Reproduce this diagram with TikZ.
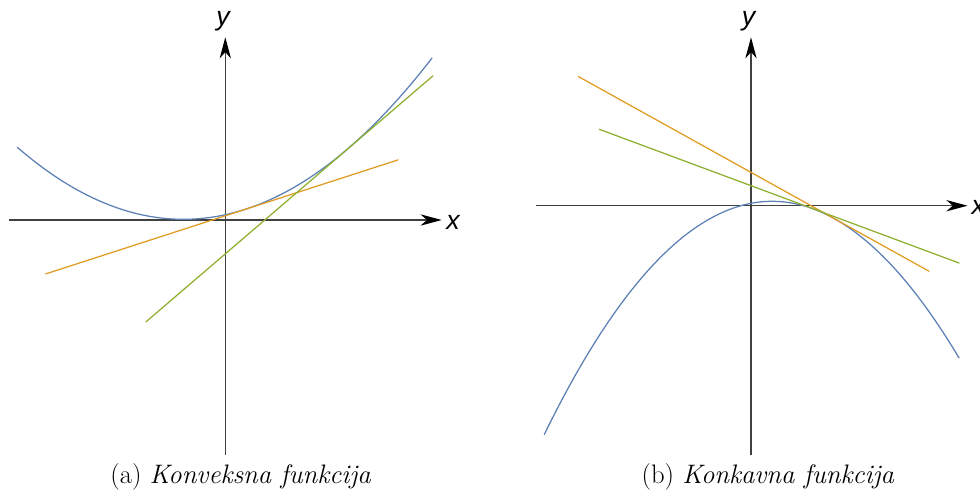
\documentclass[tikz,border=0pt]{standalone}
\usepackage{fontspec}
\newfontfamily\lblfont{Liberation Sans}
\usetikzlibrary{arrows.meta}
\definecolor{mblue}{RGB}{94,129,181}
\definecolor{morange}{RGB}{225,156,36}
\definecolor{mgreen}{RGB}{143,176,50}
\begin{document}
\begin{tikzpicture}[x=0.025cm,y=-0.025cm,
  axis/.style={draw=black!75,line width=0.8pt,-{Stealth[length=15pt,width=8pt,inset=4.5pt,color=black]}},
  curve/.style={line width=0.9pt,line cap=round},
  axlabel/.style={font=\lblfont\itshape\fontsize{19}{22}\selectfont,inner sep=0pt},
  caption/.style={font=\fontsize{19}{23}\selectfont,anchor=base,inner sep=0pt}]
\useasboundingbox (0,0) rectangle (980,495);
% ---- left panel
\coordinate (axL1) at (9,220);
\coordinate (axL2) at (441.7,220);
\coordinate (ayL1) at (225.3,455);
\coordinate (ayL2) at (225.3,37.3);
\draw[axis] (axL1) -- (axL2);
\draw[axis] (ayL1) -- (ayL2);
\node[axlabel] (xL) at (453,222) {x};
\node[axlabel] (yL) at (223,21) {y};
\draw[curve,mblue] plot[domain=17.3:432,samples=120] (\x,{219.3-(0.05108*(\x-183.4))^2});
\coordinate (oL1) at (45.7,273.9);
\coordinate (oL2) at (398,159.9);
\draw[curve,morange] (oL1) -- (oL2);
\coordinate (gL1) at (146,321.8);
\coordinate (gL2) at (433,75.8);
\draw[curve,mgreen] (gL1) -- (gL2);
\node[caption] (capA) at (240.8,483) {(a) \textit{Konveksna funkcija}};
% ---- right panel
\coordinate (axR1) at (536,205.7);
\coordinate (axR2) at (967.5,205.7);
\coordinate (ayR1) at (751,455);
\coordinate (ayR2) at (751,37.3);
\draw[axis] (axR1) -- (axR2);
\draw[axis] (ayR1) -- (ayR2);
\node[axlabel] (xR) at (978.3,207.5) {x};
\node[axlabel] (yR) at (748.5,21) {y};
\draw[curve,mblue] plot[domain=544.3:959,samples=120] (\x,{201.3+(0.06699*(\x-772.2))^2});
\coordinate (oR1) at (578.3,76.5);
\coordinate (oR2) at (929,271.2);
\draw[curve,morange] (oR1) -- (oR2);
\coordinate (gR1) at (599.3,129.3);
\coordinate (gR2) at (959,263.0);
\draw[curve,mgreen] (gR1) -- (gR2);
\node[caption] (capB) at (768,483) {(b) \textit{Konkavna funkcija}};
\end{tikzpicture}
\end{document}
